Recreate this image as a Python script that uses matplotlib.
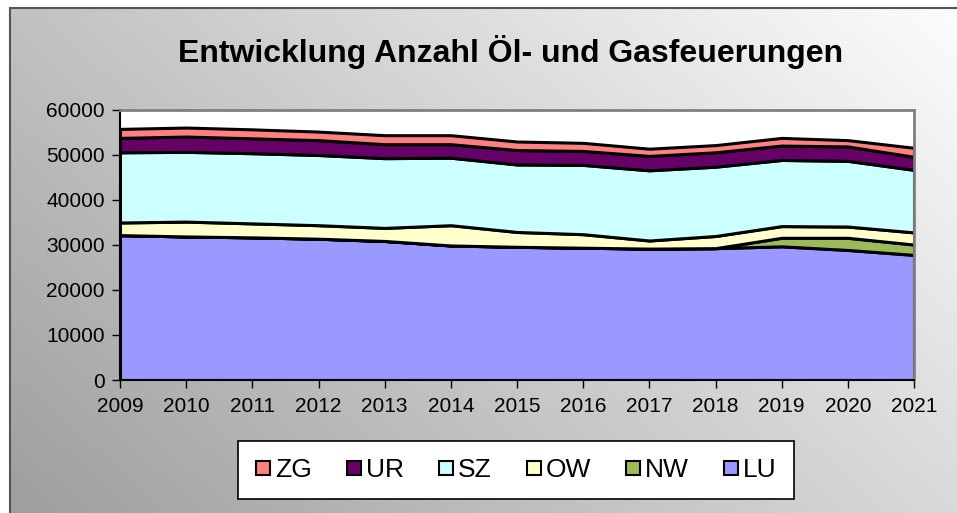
import numpy as np
import matplotlib
matplotlib.use("Agg")
import matplotlib.pyplot as plt
from matplotlib.lines import Line2D

years = [2009, 2010, 2011, 2012, 2013, 2014, 2015, 2016, 2017, 2018, 2019, 2020, 2021]
LU = [32200, 31900, 31700, 31400, 30900, 29900, 29600, 29400, 29200, 29300, 29700, 28900, 27800]
NW = [0, 0, 0, 0, 0, 0, 0, 0, 0, 0, 1900, 2700, 2300]
OW = [2800, 3300, 3100, 3000, 2900, 4500, 3300, 3000, 1800, 2700, 2600, 2500, 2700]
SZ = [15600, 15500, 15600, 15600, 15500, 15000, 15000, 15400, 15600, 15400, 14700, 14600, 13900]
UR = [3200, 3400, 3300, 3300, 3100, 3000, 3200, 3100, 3200, 3200, 3200, 3200, 2900]
ZG = [2000, 2000, 2000, 1900, 2000, 2000, 1900, 1800, 1600, 1600, 1700, 1400, 2000]

series_names = ["LU", "NW", "OW", "SZ", "UR", "ZG"]
series_vals = [LU, NW, OW, SZ, UR, ZG]
colors = ["#9999ff", "#9bbb59", "#ffffcc", "#ccffff", "#660066", "#ff8080"]
title = "Entwicklung Anzahl Öl- und Gasfeuerungen"

plt.rcParams["font.family"] = ["Liberation Sans", "DejaVu Sans"]

W, H = 957, 513
fig = plt.figure(figsize=(W / 100, H / 100), dpi=100)
fig.patch.set_facecolor("white")

# gradient background of the chart area
bg = fig.add_axes([10 / W, 0, 1 - 10 / W, 1 - 8 / H])
bg.set_axis_off()
nx, ny = 300, 200
xx, yy = np.meshgrid(np.linspace(0, 1, nx), np.linspace(0, 1, ny))
t = (xx * 0.75 + yy * 0.45) / 1.2
grad = 0.62 + 0.37 * t
img = np.dstack([grad, grad, grad])
bg.imshow(img, origin="lower", extent=[0, 1, 0, 1], aspect="auto", interpolation="bilinear")
bg.set_xlim(0, 1)
bg.set_ylim(0, 1)
bg.plot([0, 0], [0, 1], color="#555555", lw=1.5, transform=bg.transAxes, clip_on=False)
bg.plot([0, 1], [1, 1], color="#555555", lw=1.5, transform=bg.transAxes, clip_on=False)

# main plot area
left, right, top, bottom = 120, 914, 110, 380
ax = fig.add_axes([left / W, 1 - bottom / H, (right - left) / W, (bottom - top) / H])
ax.set_facecolor("white")
ax.stackplot(years, *series_vals, colors=colors, edgecolor="black", linewidth=2.2)
ax.set_xlim(years[0], years[-1])
ax.set_ylim(0, 60000)
ax.set_yticks(np.arange(0, 60001, 10000))
ax.set_xticks(years)
ax.tick_params(axis="both", labelsize=15, colors="black", direction="out", length=6, width=1)
ax.tick_params(axis="x", pad=6)
ax.tick_params(axis="y", pad=5)
for s in ["left", "bottom"]:
    ax.spines[s].set_color("black")
    ax.spines[s].set_linewidth(1.5)
for s in ["top", "right"]:
    ax.spines[s].set_color("#808080")
    ax.spines[s].set_linewidth(2)
ax.set_zorder(2)

fig.text(511 / W, 1 - 52 / H, title, ha="center", va="center", fontsize=23, fontweight="bold")

# legend
handles = [Line2D([0], [0], marker="s", linestyle="none", markersize=10,
                  markerfacecolor=c, markeredgecolor="black", markeredgewidth=1.5)
           for c in colors[::-1]]
leg = fig.legend(handles, series_names[::-1], loc="center", ncol=6,
                 bbox_to_anchor=(516 / W, 1 - 470 / H), fontsize=19,
                 frameon=True, fancybox=False, edgecolor="black", framealpha=1,
                 handlelength=0.6, handletextpad=0.15, columnspacing=1.3,
                 borderpad=0.65)
leg.get_frame().set_linewidth(1.2)
leg.get_frame().set_facecolor("white")

fig.savefig("out.png", dpi=100)
